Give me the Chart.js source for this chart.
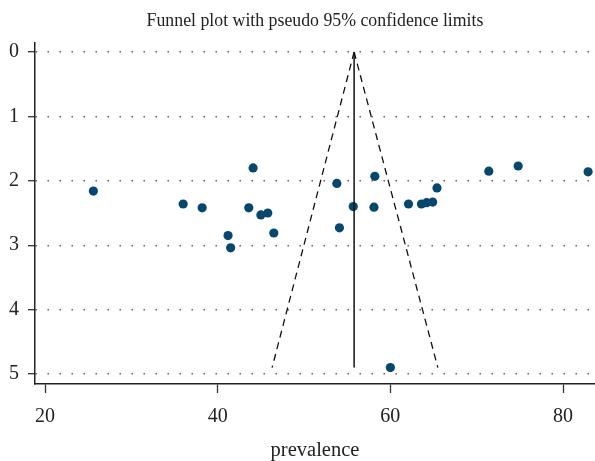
<!DOCTYPE html>
<html>
<head>
<meta charset="utf-8">
<script src="https://cdn.jsdelivr.net/npm/chart.js@4.4.1/dist/chart.umd.min.js"></script>
<style>
  html, body { margin: 0; padding: 0; background: #fff; }
  canvas { display: block; }
</style>
</head>
<body>
<canvas id="funnelChart" width="595" height="461"></canvas>
<script>
// estudos: prevalencia (%) e erro padrao
const prevalence = [25.6, 36.0, 38.2, 44.1, 43.6, 45.0, 45.8, 41.2, 41.5, 46.5, 53.8, 58.2,
                    55.7, 58.1, 54.1, 62.1, 63.6, 64.2, 64.9, 65.4, 71.4, 74.8, 82.9, 60.0];
const stdError = [2.16, 2.36, 2.42, 1.80, 2.42, 2.53, 2.50, 2.85, 3.04, 2.81, 2.04, 1.93,
                  2.40, 2.41, 2.73, 2.36, 2.36, 2.34, 2.33, 2.11, 1.85, 1.77, 1.86, 4.90];

// linha do efeito combinado e limites de 95%
const pooledX = [55.8, 55.8];
const pooledSe = [0, 4.9];
const lowerLimitX = [55.8, 46.3];
const upperLimitX = [55.8, 65.5];
const limitSe = [0, 4.9];

const xTicks = [20, 40, 60, 80];
const yTicks = [0, 1, 2, 3, 4, 5];

const chartTitle = 'Funnel plot with pseudo 95% confidence limits';
const serif = "'Liberation Serif', 'DejaVu Serif', serif";

function toPoints(xs, ys) {
    return xs.map((x, i) => ({ x: x, y: ys[i] }));
}

// titulo centrado sobre a area do grafico
const titlePlugin = {
    id: 'plotTitle',
    afterDraw(chart) {
        const c = chart.ctx;
        const area = chart.chartArea;
        c.save();
        c.fillStyle = '#222';
        c.font = '17.8px ' + serif;
        c.textAlign = 'center';
        c.textBaseline = 'alphabetic';
        c.fillText(chartTitle, (area.left + area.right) / 2, 26);
        c.restore();
    }
};

const ctx = document.getElementById('funnelChart').getContext('2d');

new Chart(ctx, {
    type: 'scatter',
    data: {
        datasets: [
            {
                type: 'line',
                data: toPoints(pooledX, pooledSe),
                borderColor: '#111',
                borderWidth: 1.5,
                pointRadius: 0,
                showLine: true
            },
            {
                type: 'line',
                data: toPoints(lowerLimitX, limitSe),
                borderColor: '#111',
                borderWidth: 1.3,
                borderDash: [7, 5],
                pointRadius: 0,
                showLine: true
            },
            {
                type: 'line',
                data: toPoints(upperLimitX, limitSe),
                borderColor: '#111',
                borderWidth: 1.3,
                borderDash: [7, 5],
                pointRadius: 0,
                showLine: true
            },
            {
                data: toPoints(prevalence, stdError),
                backgroundColor: '#07476d',
                borderColor: '#07476d',
                pointRadius: 4.6,
                pointBorderWidth: 0
            }
        ]
    },
    options: {
        responsive: false,
        animation: false,
        layout: { padding: { top: 43, left: 0, right: 0, bottom: 0 }, autoPadding: false },
        plugins: {
            legend: { display: false },
            tooltip: { enabled: false },
            title: { display: false }
        },
        scales: {
            x: {
                type: 'linear',
                min: 18.84,
                max: 83.7,
                afterBuildTicks: s => { s.ticks = xTicks.map(v => ({ value: v })); },
                afterFit: s => { s.height = 77; },
                grid: {
                    drawOnChartArea: false,
                    tickLength: 9,
                    tickColor: '#333',
                    tickWidth: 1.3
                },
                border: { color: '#222', width: 1.5 },
                ticks: {
                    color: '#222',
                    padding: 12,
                    maxRotation: 0,
                    font: { family: serif, size: 20, lineHeight: 1.2 }
                },
                title: {
                    display: true,
                    text: 'prevalence',
                    color: '#222',
                    font: { family: serif, size: 20.5, lineHeight: 1 },
                    padding: { top: 0, bottom: 0 }
                }
            },
            y: {
                type: 'linear',
                reverse: true,
                min: -0.14,
                max: 5.155,
                afterBuildTicks: s => { s.ticks = yTicks.map(v => ({ value: v })); },
                afterFit: s => { s.width = 35; },
                grid: {
                    color: '#555',
                    lineWidth: 1.4,
                    tickLength: 7,
                    tickColor: '#333',
                    tickWidth: 1.3,
                    tickBorderDash: []
                },
                border: { color: '#222', width: 1.5, dash: [1.4, 10.6] },
                ticks: {
                    color: '#222',
                    padding: 9,
                    font: { family: serif, size: 20, lineHeight: 1.2 }
                }
            }
        }
    },
    plugins: [titlePlugin]
});
</script>
</body>
</html>
